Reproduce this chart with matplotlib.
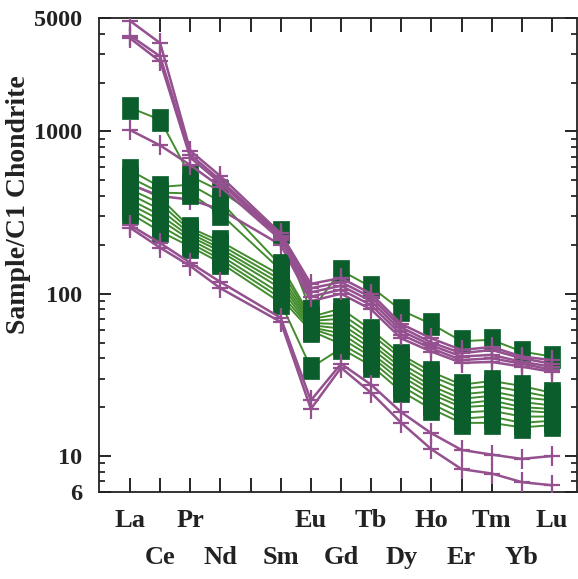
import numpy as np
import matplotlib
matplotlib.use("Agg")
import matplotlib.pyplot as plt
from matplotlib.path import Path
from matplotlib.ticker import FixedLocator, LogLocator, NullFormatter

# ---- data -------------------------------------------------------------
slots = ['La', 'Ce', 'Pr', 'Nd', 'Pm', 'Sm', 'Eu', 'Gd', 'Tb', 'Dy',
         'Ho', 'Er', 'Tm', 'Yb', 'Lu']
elements = ['La', 'Ce', 'Pr', 'Nd', 'Sm', 'Eu', 'Gd', 'Tb', 'Dy',
            'Ho', 'Er', 'Tm', 'Yb', 'Lu']
row1_labels = ['La', 'Pr', '', 'Eu', 'Tb', 'Ho', 'Tm', 'Lu']
row1_slots = ['La', 'Pr', 'Pm', 'Eu', 'Tb', 'Ho', 'Tm', 'Lu']
row2_labels = ['Ce', 'Nd', 'Sm', 'Gd', 'Dy', 'Er', 'Yb']
row2_slots = ['Ce', 'Nd', 'Sm', 'Gd', 'Dy', 'Er', 'Yb']

# green (square) samples
g1 = [1400, 1180, 530, 430, 240, 78, 139, 110, 79, 65, 51, 52, 44, 41]
g2 = [576, 455, 470, 370, 150, 72, 81, 60, 42, 33, 27.5, 29, 27, 24.5]
g3 = [520, 420, 415, 310, 140, 70, 75, 56, 40, 31, 26, 27, 25, 23]
g4 = [480, 390, 255, 210, 130, 68, 70, 52, 37, 29, 24, 25, 23, 22]
g5 = [440, 360, 245, 200, 122, 66, 65, 49, 35, 27, 22.5, 23.5, 21.5, 20.5]
g6 = [410, 330, 235, 190, 115, 64, 61, 46, 33, 25.5, 21, 22, 20, 19.5]
g7 = [380, 305, 225, 182, 108, 62, 57, 43, 31, 24, 20, 20.5, 19, 18.5]
g8 = [355, 285, 215, 172, 100, 61, 53, 41, 29, 22.5, 18.5, 19, 17.5, 17.5]
g9 = [333, 262, 205, 163, 94, 59, 49, 38.5, 27, 21, 17, 17.5, 16, 16.5]
g10 = [313, 242, 195, 155, 88, 35, 46, 36, 25, 19.5, 16, 16, 15, 15.5]
green_series = [g1, g2, g3, g4, g5, g6, g7, g8, g9, g10]

# purple (plus) samples
p1 = [4800, 3500, 760, 530, 235, 115, 125, 100, 65, 53, 45, 47, 41, 39]
p2 = [3900, 2900, 720, 500, 228, 108, 118, 95, 62, 50, 43, 45, 40, 37]
p3 = [3750, 2700, 690, 480, 222, 102, 112, 90, 59, 48, 41, 42, 38, 35.5]
p4 = [1020, 820, 620, 455, 215, 96, 106, 85, 56, 46, 39, 40, 37, 34]
p5 = [470, 400, 380, 330, 200, 90, 100, 80, 53, 44, 37.5, 38, 35.5, 33]
p6 = [265, 205, 155, 118, 71, 22, 37, 27.5, 18.6, 13.8, 10.9, 10.2, 9.6, 10]
p7 = [255, 192, 148, 108, 67, 19.5, 35, 24.5, 16, 11, 8.3, 7.8, 6.9, 6.6]
purple_front = [p1, p2, p3, p4, p6, p7]
purple_back = [p5]

# ---- figure -----------------------------------------------------------
fig = plt.figure(figsize=(5.78, 5.79), dpi=100)
ax = fig.add_axes([99/578, 1-492/579, (577-99)/578, (492-18)/579])

xpos = [slots.index(e) for e in elements]

square = Path([(-0.7, -1), (0.7, -1), (0.7, 1), (-0.7, 1), (-0.7, -1)],
              [Path.MOVETO, Path.LINETO, Path.LINETO, Path.LINETO, Path.CLOSEPOLY])
plus = Path([(-0.8, 0), (0.8, 0), (0, -1), (0, 1)],
            [Path.MOVETO, Path.LINETO, Path.MOVETO, Path.LINETO])

green_line = '#428c2e'
green_face = '#0b5e2b'
purple = '#94508f'

for s in green_series:
    ax.plot(xpos, s, color=green_line, lw=1.4, zorder=2)
for s in purple_back:
    ax.plot(xpos, s, color=purple, lw=1.8, marker=plus, ms=14.5,
            mew=1.6, mec=purple, zorder=2.5)
for s in green_series:
    ax.plot(xpos, s, ls='none', marker=square, ms=16.5, mfc=green_face,
            mec=green_face, mew=0.5, zorder=3)
for s in purple_front:
    ax.plot(xpos, s, color=purple, lw=1.8, marker=plus, ms=14.5,
            mew=1.6, mec=purple, zorder=4)

ax.set_yscale('log')
ax.set_ylim(6, 5000)
ax.set_xlim(-1.03, 14.83)

serif = ['Liberation Serif', 'DejaVu Serif']
ax.yaxis.set_major_locator(FixedLocator([6, 10, 100, 1000, 5000]))
ax.set_yticklabels(['6', '10', '100', '1000', '5000'], family=serif,
                   fontweight='bold', fontsize=17.5, color='#222222')
ax.yaxis.set_minor_locator(LogLocator(base=10, subs=np.arange(2, 10)))
ax.yaxis.set_minor_formatter(NullFormatter())

ax.set_xticks([slots.index(s) for s in row1_slots])
ax.set_xticklabels(row1_labels, family=serif, fontweight='bold',
                   fontsize=19, color='#222222')
ax.set_xticks([slots.index(s) for s in row2_slots], minor=True)
ax.set_xticklabels(row2_labels, minor=True, family=serif, fontweight='bold',
                   fontsize=19, color='#222222')

ax.tick_params(axis='x', which='major', direction='in', length=10, width=1.2,
               top=True, bottom=True, pad=12)
ax.tick_params(axis='x', which='minor', direction='in', length=10, width=1.2,
               top=True, bottom=True, pad=39)
ax.tick_params(axis='y', which='major', direction='in', length=8.5, width=1.2,
               left=True, right=True, pad=12)
ax.tick_params(axis='y', which='minor', direction='in', length=4, width=1.1,
               left=True, right=True)
for sp in ax.spines.values():
    sp.set_linewidth(1.3)
    sp.set_color('#222222')

fig.text(19/578, 1-205/579, 'Sample/C1 Chondrite', rotation=90,
         ha='center', va='center', family=serif, fontweight='bold',
         fontsize=20, color='#222222')

fig.savefig('out.png', dpi=100)
